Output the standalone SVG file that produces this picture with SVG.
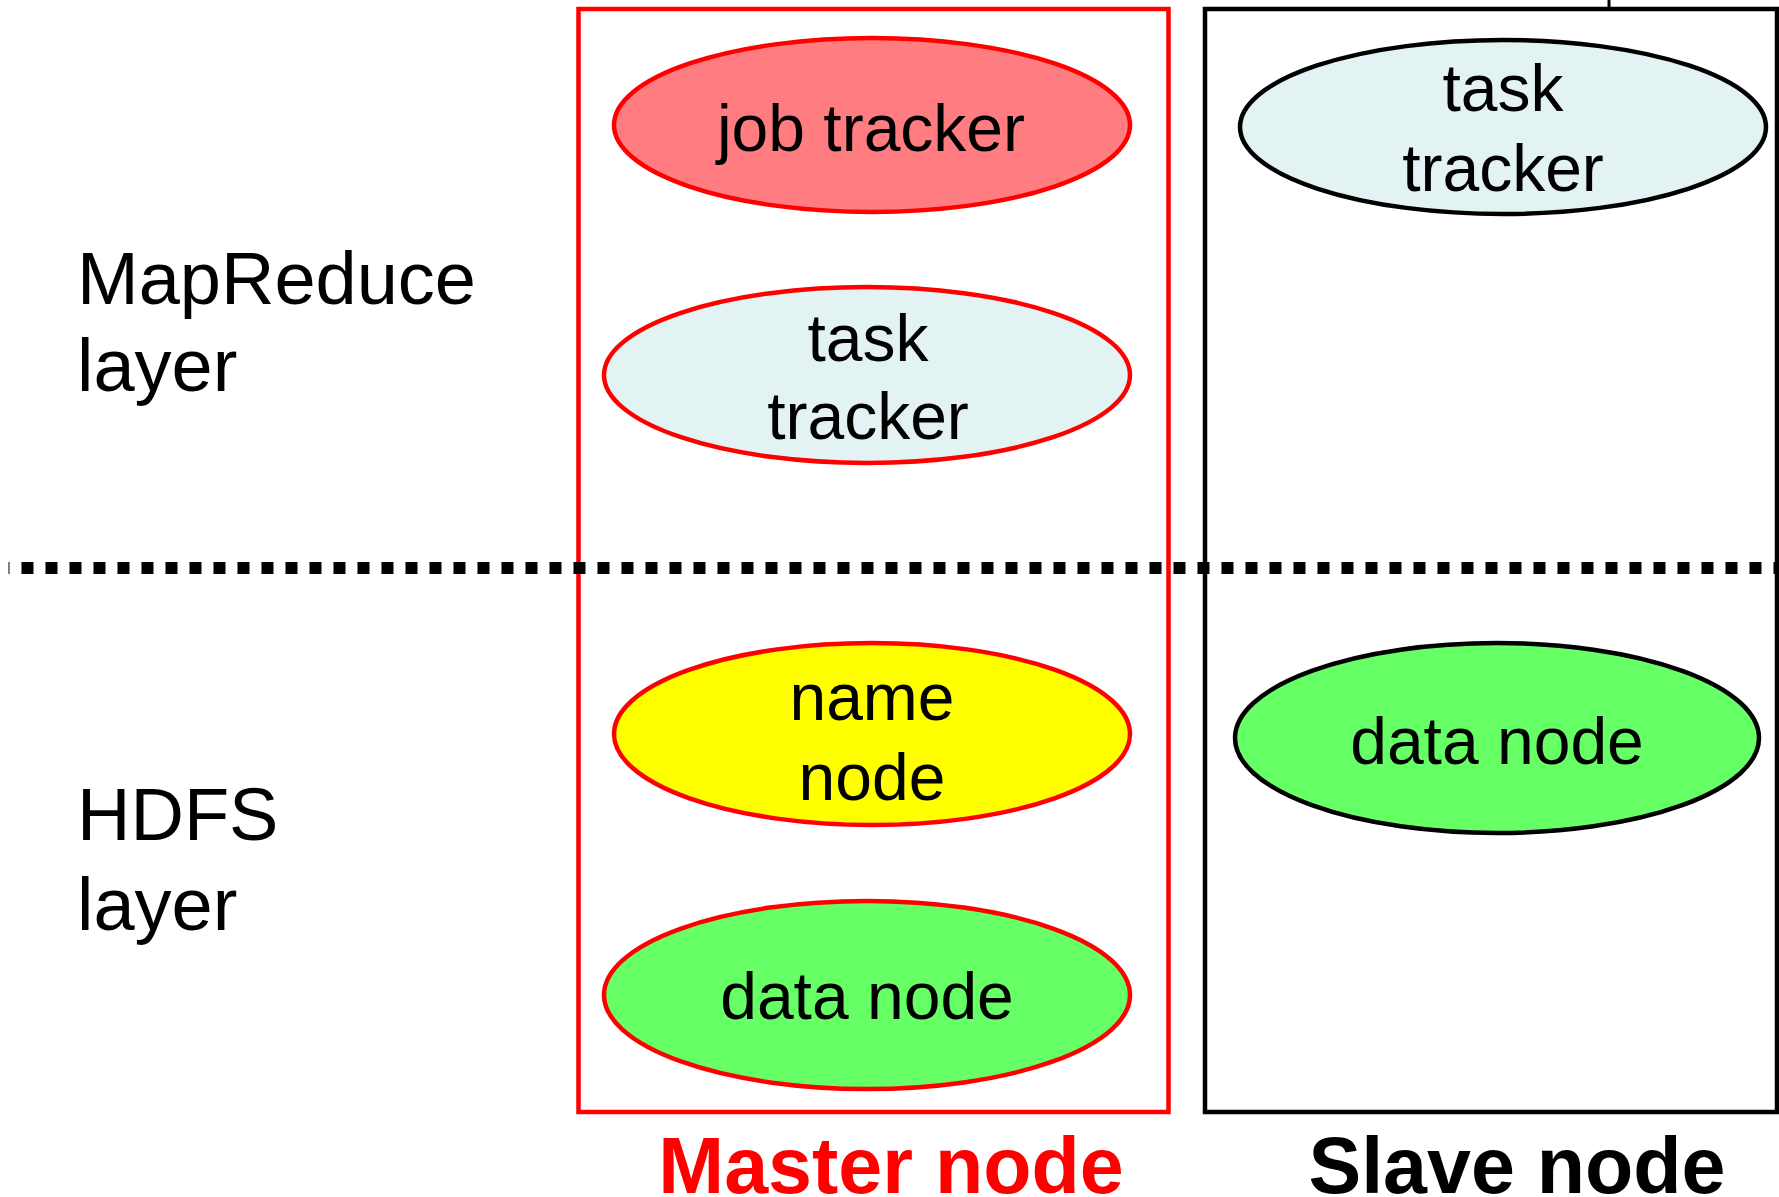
<svg xmlns="http://www.w3.org/2000/svg" width="1779" height="1197" viewBox="0 0 1779 1197">
<style>
.t{font-family:"Liberation Sans",Arial,sans-serif;font-size:66px;fill:#000;text-anchor:middle}
.side{font-family:"Liberation Sans",Arial,sans-serif;font-size:74px;fill:#000}
.lbl{font-family:"Liberation Sans",Arial,sans-serif;font-size:79px;font-weight:bold;text-anchor:middle}
.er{stroke:#FF0000;stroke-width:4.5}
.eb{stroke:#000;stroke-width:4.5}
</style>
<rect width="1779" height="1197" fill="#fff"/>
<g id="layers">
<text class="side" x="77" y="304">MapReduce</text>
<text class="side" x="77" y="391">layer</text>
<text class="side" x="77" y="840">HDFS</text>
<text class="side" x="77" y="930">layer</text>
</g>
<g id="master">
<rect x="578.5" y="9" width="590" height="1103" fill="none" stroke="#FF0000" stroke-width="4.5"/>
<text class="lbl" x="891" y="1193" fill="#FF0000">Master node</text>
</g>
<g id="slave">
<rect x="1205" y="9" width="572" height="1103" fill="none" stroke="#000" stroke-width="4.5"/>
<line x1="1609" y1="0" x2="1609" y2="9" stroke="#000" stroke-width="3"/>
<text class="lbl" x="1517" y="1193" fill="#000">Slave node</text>
</g>
<g id="connectors">
<line x1="8.5" y1="568" x2="1779" y2="568" stroke="#000" stroke-width="12" stroke-dasharray="12 12" stroke-dashoffset="11"/>
</g>
<g id="job-tracker">
<ellipse class="er" cx="872" cy="125" rx="258" ry="87" fill="#FF7C80"/>
<text class="t" x="871" y="151">job tracker</text>
</g>
<g id="master-task-tracker">
<ellipse class="er" cx="867" cy="375" rx="263" ry="88" fill="#E3F3F3"/>
<text class="t" x="868" y="361">task</text>
<text class="t" x="868" y="439">tracker</text>
</g>
<g id="name-node">
<ellipse class="er" cx="872" cy="734" rx="258" ry="91" fill="#FFFF00"/>
<text class="t" x="872" y="720">name</text>
<text class="t" x="872" y="800">node</text>
</g>
<g id="master-data-node">
<ellipse class="er" cx="867" cy="995" rx="263" ry="94" fill="#66FF66"/>
<text class="t" x="867" y="1019">data node</text>
</g>
<g id="slave-task-tracker">
<ellipse class="eb" cx="1503" cy="127" rx="263" ry="87" fill="#E3F3F3"/>
<text class="t" x="1503" y="111">task</text>
<text class="t" x="1503" y="191">tracker</text>
</g>
<g id="slave-data-node">
<ellipse class="eb" cx="1497" cy="738" rx="262" ry="95" fill="#66FF66"/>
<text class="t" x="1497" y="764">data node</text>
</g>
</svg>
